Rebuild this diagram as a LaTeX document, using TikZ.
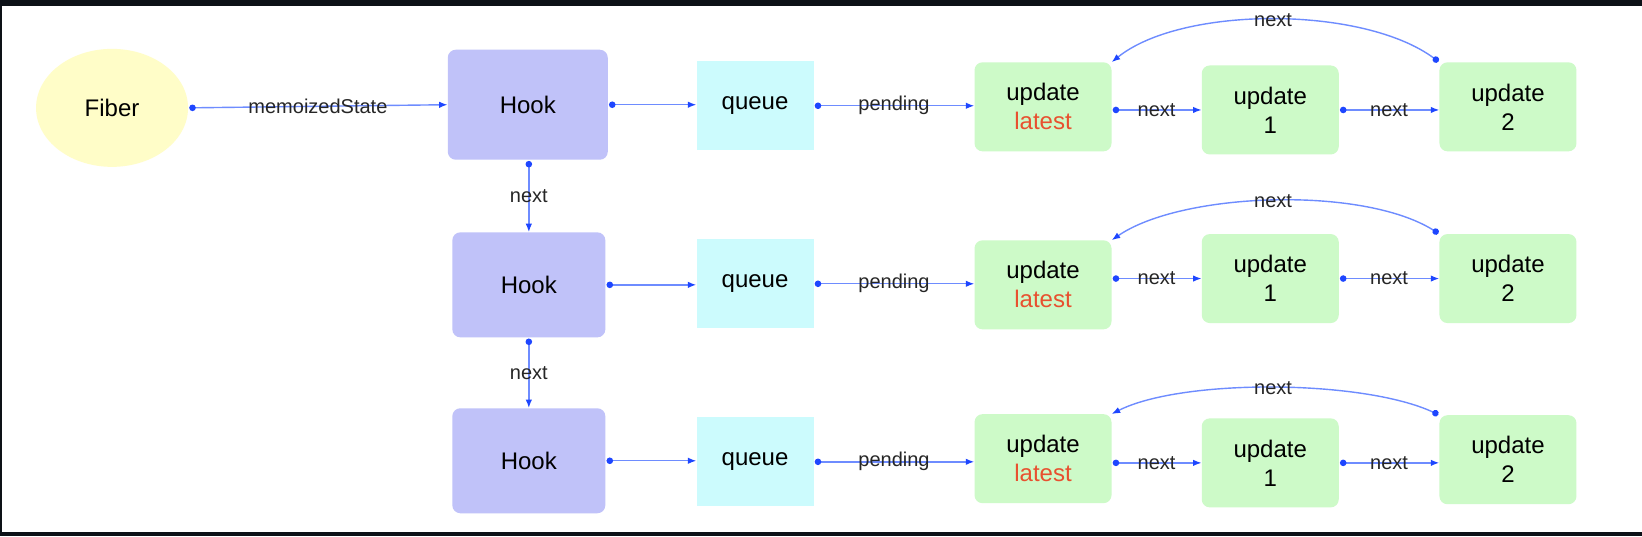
\documentclass[tikz,border=0pt]{standalone}
\usepackage{fontspec}
\setmainfont{Liberation Sans}
\usetikzlibrary{shapes.geometric,arrows.meta}
\definecolor{frame}{HTML}{0D1117}
\definecolor{fiberfill}{HTML}{FFFDC8}
\definecolor{hookfill}{HTML}{C0C2F9}
\definecolor{queuefill}{HTML}{CCFBFD}
\definecolor{updfill}{HTML}{CDFAC8}
\definecolor{linkline}{HTML}{6E8CFF}
\definecolor{linkdot}{HTML}{1E46FF}
\definecolor{latestred}{HTML}{E8502F}
\tikzset{
  fiberbox/.style={ellipse,fill=fiberfill,minimum width=152pt,minimum height=118pt,inner sep=0pt,font=\fontsize{24}{28}\selectfont},
  hookbox/.style={rounded corners=8pt,fill=hookfill,minimum width=153pt,minimum height=105pt,inner sep=0pt,font=\fontsize{24}{28}\selectfont},
  queuebox/.style={fill=queuefill,minimum width=117pt,minimum height=89pt,inner sep=0pt,font=\fontsize{24}{28}\selectfont},
  updbox/.style={rounded corners=8pt,fill=updfill,minimum width=137pt,minimum height=89pt,inner sep=0pt,align=center,font=\fontsize{24}{29}\selectfont},
  link/.style={draw=linkline,line width=1.4pt,{Circle[length=6.5pt,color=linkdot]}-{Latex[length=8.5pt,width=6.5pt,color=linkdot]},shorten <=1pt},
  lbl/.style={font=\fontsize{20}{22}\selectfont,inner sep=1pt,text=black!85}
}
\begin{document}
\begin{tikzpicture}[x=1.0472pt,y=-1.0472pt]
\fill[frame] (0,0) rectangle (1568,512);
\fill[white] (1.9,5.7) rectangle (1568,508);
\useasboundingbox (0,0) rectangle (1568,512);

\node[fiberbox] (fiber) at (107,103) {Fiber};

% row 1
\node[hookbox,minimum width=160pt,minimum height=110pt] (h1) at (504,100) {Hook};
\node[queuebox] (q1) at (721,101) {queue};
\node[updbox] (l1) at (996,102) {update\\\textcolor{latestred}{latest}};
\node[updbox] (a1) at (1213,105) {update\\1};
\node[updbox] (b1) at (1440,102) {update\\2};

% row 2
\node[hookbox] (h2) at (505,272) {Hook};
\node[queuebox] (q2) at (721,271) {queue};
\node[updbox] (l2) at (996,272) {update\\\textcolor{latestred}{latest}};
\node[updbox] (a2) at (1213,266) {update\\1};
\node[updbox] (b2) at (1440,266) {update\\2};

% row 3
\node[hookbox] (h3) at (505,440) {Hook};
\node[queuebox] (q3) at (721,441) {queue};
\node[updbox] (l3) at (996,438) {update\\\textcolor{latestred}{latest}};
\node[updbox] (a3) at (1213,442) {update\\1};
\node[updbox] (b3) at (1440,439) {update\\2};

% fiber to hook
\draw[link] (fiber.east) -- node[lbl] {memoizedState} (h1.west);

% horizontal links
\foreach \r in {1,2,3}{
  \draw[link] (h\r.east) -- (q\r.west |- h\r.east);
  \draw[link] (q\r.east) -- node[lbl] {pending} (l\r.west |- q\r.east);
  \draw[link] (l\r.east |- a\r.west) -- node[lbl] {next} (a\r.west);
  \draw[link] (a\r.east) -- node[lbl] {next} (b\r.west |- a\r.east);
}

% vertical hook links
\draw[link] (h2.north |- h1.south) -- node[lbl] {next} (h2.north);
\draw[link] (h2.south) -- node[lbl] {next} (h3.north);

% curved links
\draw[link] (b1.north west) .. controls ++(-73,-54) and ++(67,-54) .. node[lbl] {next} (l1.north east);
\draw[link] (b2.north west) .. controls ++(-73,-46) and ++(67,-46) .. node[lbl] {next} (l2.north east);
\draw[link] (b3.north west) .. controls ++(-73,-34) and ++(67,-34) .. node[lbl] {next} (l3.north east);
\end{tikzpicture}
\end{document}
